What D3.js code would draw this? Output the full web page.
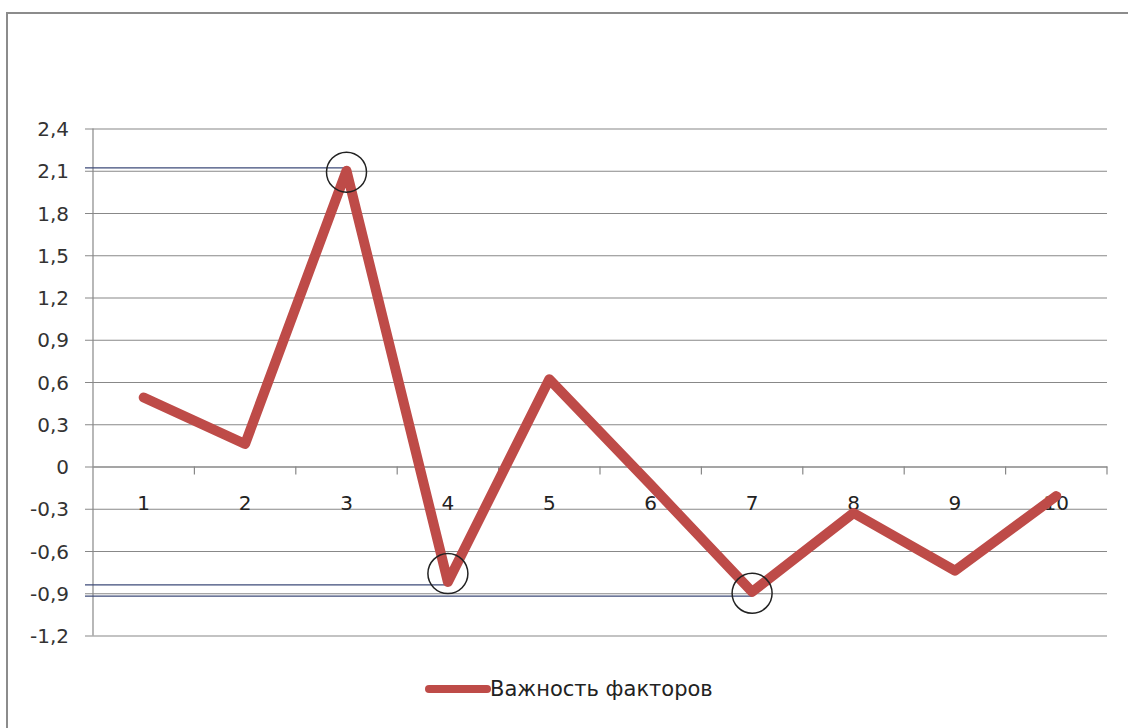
<!DOCTYPE html>
<html><head><meta charset="utf-8">
<script src="https://cdn.jsdelivr.net/npm/d3@7/dist/d3.min.js"></script>
<style>
html,body{margin:0;padding:0;background:#fff;}
svg{display:block;}
text{font-family:"DejaVu Sans",Verdana,sans-serif;}
</style></head>
<body>
<svg id="c" width="1128" height="728"></svg>
<script>
const categories = ["1","2","3","4","5","6","7","8","9","10"];
const values = [0.49, 0.16, 2.10, -0.82, 0.62, -0.13, -0.89, -0.33, -0.74, -0.21];
const yTicks = [-1.2,-0.9,-0.6,-0.3,0,0.3,0.6,0.9,1.2,1.5,1.8,2.1,2.4];
const yTickLabels = ["-1,2","-0,9","-0,6","-0,3","0","0,3","0,6","0,9","1,2","1,5","1,8","2,1","2,4"];
const seriesName = "Важность факторов";
// hand-drawn annotations: marked categories, their circle levels and reference line levels
const markedCats = ["3","4","7"];
const circleLevels = [2.09, -0.76, -0.90];
const refLevels = [2.12, -0.84, -0.92];

const svg = d3.select("#c");
const W = 1128, H = 728;
const L = 93, R = 1107, T = 128.5, B = 635.5;
const FS = 20;

// outer chart border (left & top visible)
svg.append("path").attr("d", `M7,${H} L7,13 L${W},13`)
  .attr("fill","none").attr("stroke","#8c8c8c").attr("stroke-width",2);

const x = d3.scaleBand().domain(categories).range([L, R]).padding(0);
const y = d3.scaleLinear().domain([-1.2, 2.4]).range([B, T]);
const cx = c => x(c) + x.bandwidth()/2;

// gridlines + y axis
const yAxis = d3.axisLeft(y).tickValues(yTicks)
  .tickFormat((d,i) => yTickLabels[i])
  .tickSize(-(R - L)).tickPadding(0);
const gy = svg.append("g").attr("transform", `translate(${L},0)`).call(yAxis);
gy.select(".domain").remove();
gy.selectAll(".tick line").attr("stroke","#888").attr("stroke-width",1.2).attr("x1",-8);
gy.selectAll(".tick text").attr("x",-24).attr("fill","#333").attr("font-size",FS)
  .attr("text-anchor","end").attr("dy","0.35em");
svg.append("line").attr("x1",L).attr("x2",L).attr("y1",y(2.4)).attr("y2",y(-1.2))
  .attr("stroke","#888").attr("stroke-width",1.2);

// x axis at zero
const xAxis = d3.axisBottom(x).tickSize(0).tickPadding(0);
const gx = svg.append("g").attr("transform", `translate(0,${y(0)})`).call(xAxis);
gx.select(".domain").attr("stroke","#888").attr("stroke-width",1.2);
gx.selectAll(".tick text").attr("y",36).attr("dy","0.35em").attr("fill","#222").attr("font-size",FS);
// category boundary ticks
const bounds = categories.map(c => x(c) + x.bandwidth());
svg.append("g").selectAll("line").data(bounds).join("line")
  .attr("x1",d=>d).attr("x2",d=>d).attr("y1",y(0)).attr("y2",y(0)+8)
  .attr("stroke","#888").attr("stroke-width",1.2);

// reference lines (hand annotations)
svg.append("g").selectAll("line").data(markedCats).join("line")
  .attr("x1",L-8).attr("x2",(c)=>cx(c)).attr("y1",(c,i)=>y(refLevels[i])).attr("y2",(c,i)=>y(refLevels[i]))
  .attr("stroke","#3d4a78").attr("stroke-width",1.2);

// series line
const line = d3.line().x((d,i)=>cx(categories[i])).y(d=>y(d));
svg.append("path").datum(values).attr("d", line)
  .attr("fill","none").attr("stroke","#BE4B48").attr("stroke-width",10)
  .attr("stroke-linejoin","round").attr("stroke-linecap","round");

// circles
svg.append("g").selectAll("circle").data(markedCats).join("circle")
  .attr("cx",c=>cx(c)).attr("cy",(c,i)=>y(circleLevels[i])).attr("r",20)
  .attr("fill","none").attr("stroke","#222").attr("stroke-width",1.5);

// legend
const lg = svg.append("g");
lg.append("line").attr("x1",429).attr("x2",487).attr("y1",689).attr("y2",689)
  .attr("stroke","#BE4B48").attr("stroke-width",8).attr("stroke-linecap","round");
lg.append("text").attr("x",490).attr("y",689).attr("dy","0.35em")
  .attr("font-size",FS+1).attr("fill","#222").text(seriesName);
</script>
</body></html>
